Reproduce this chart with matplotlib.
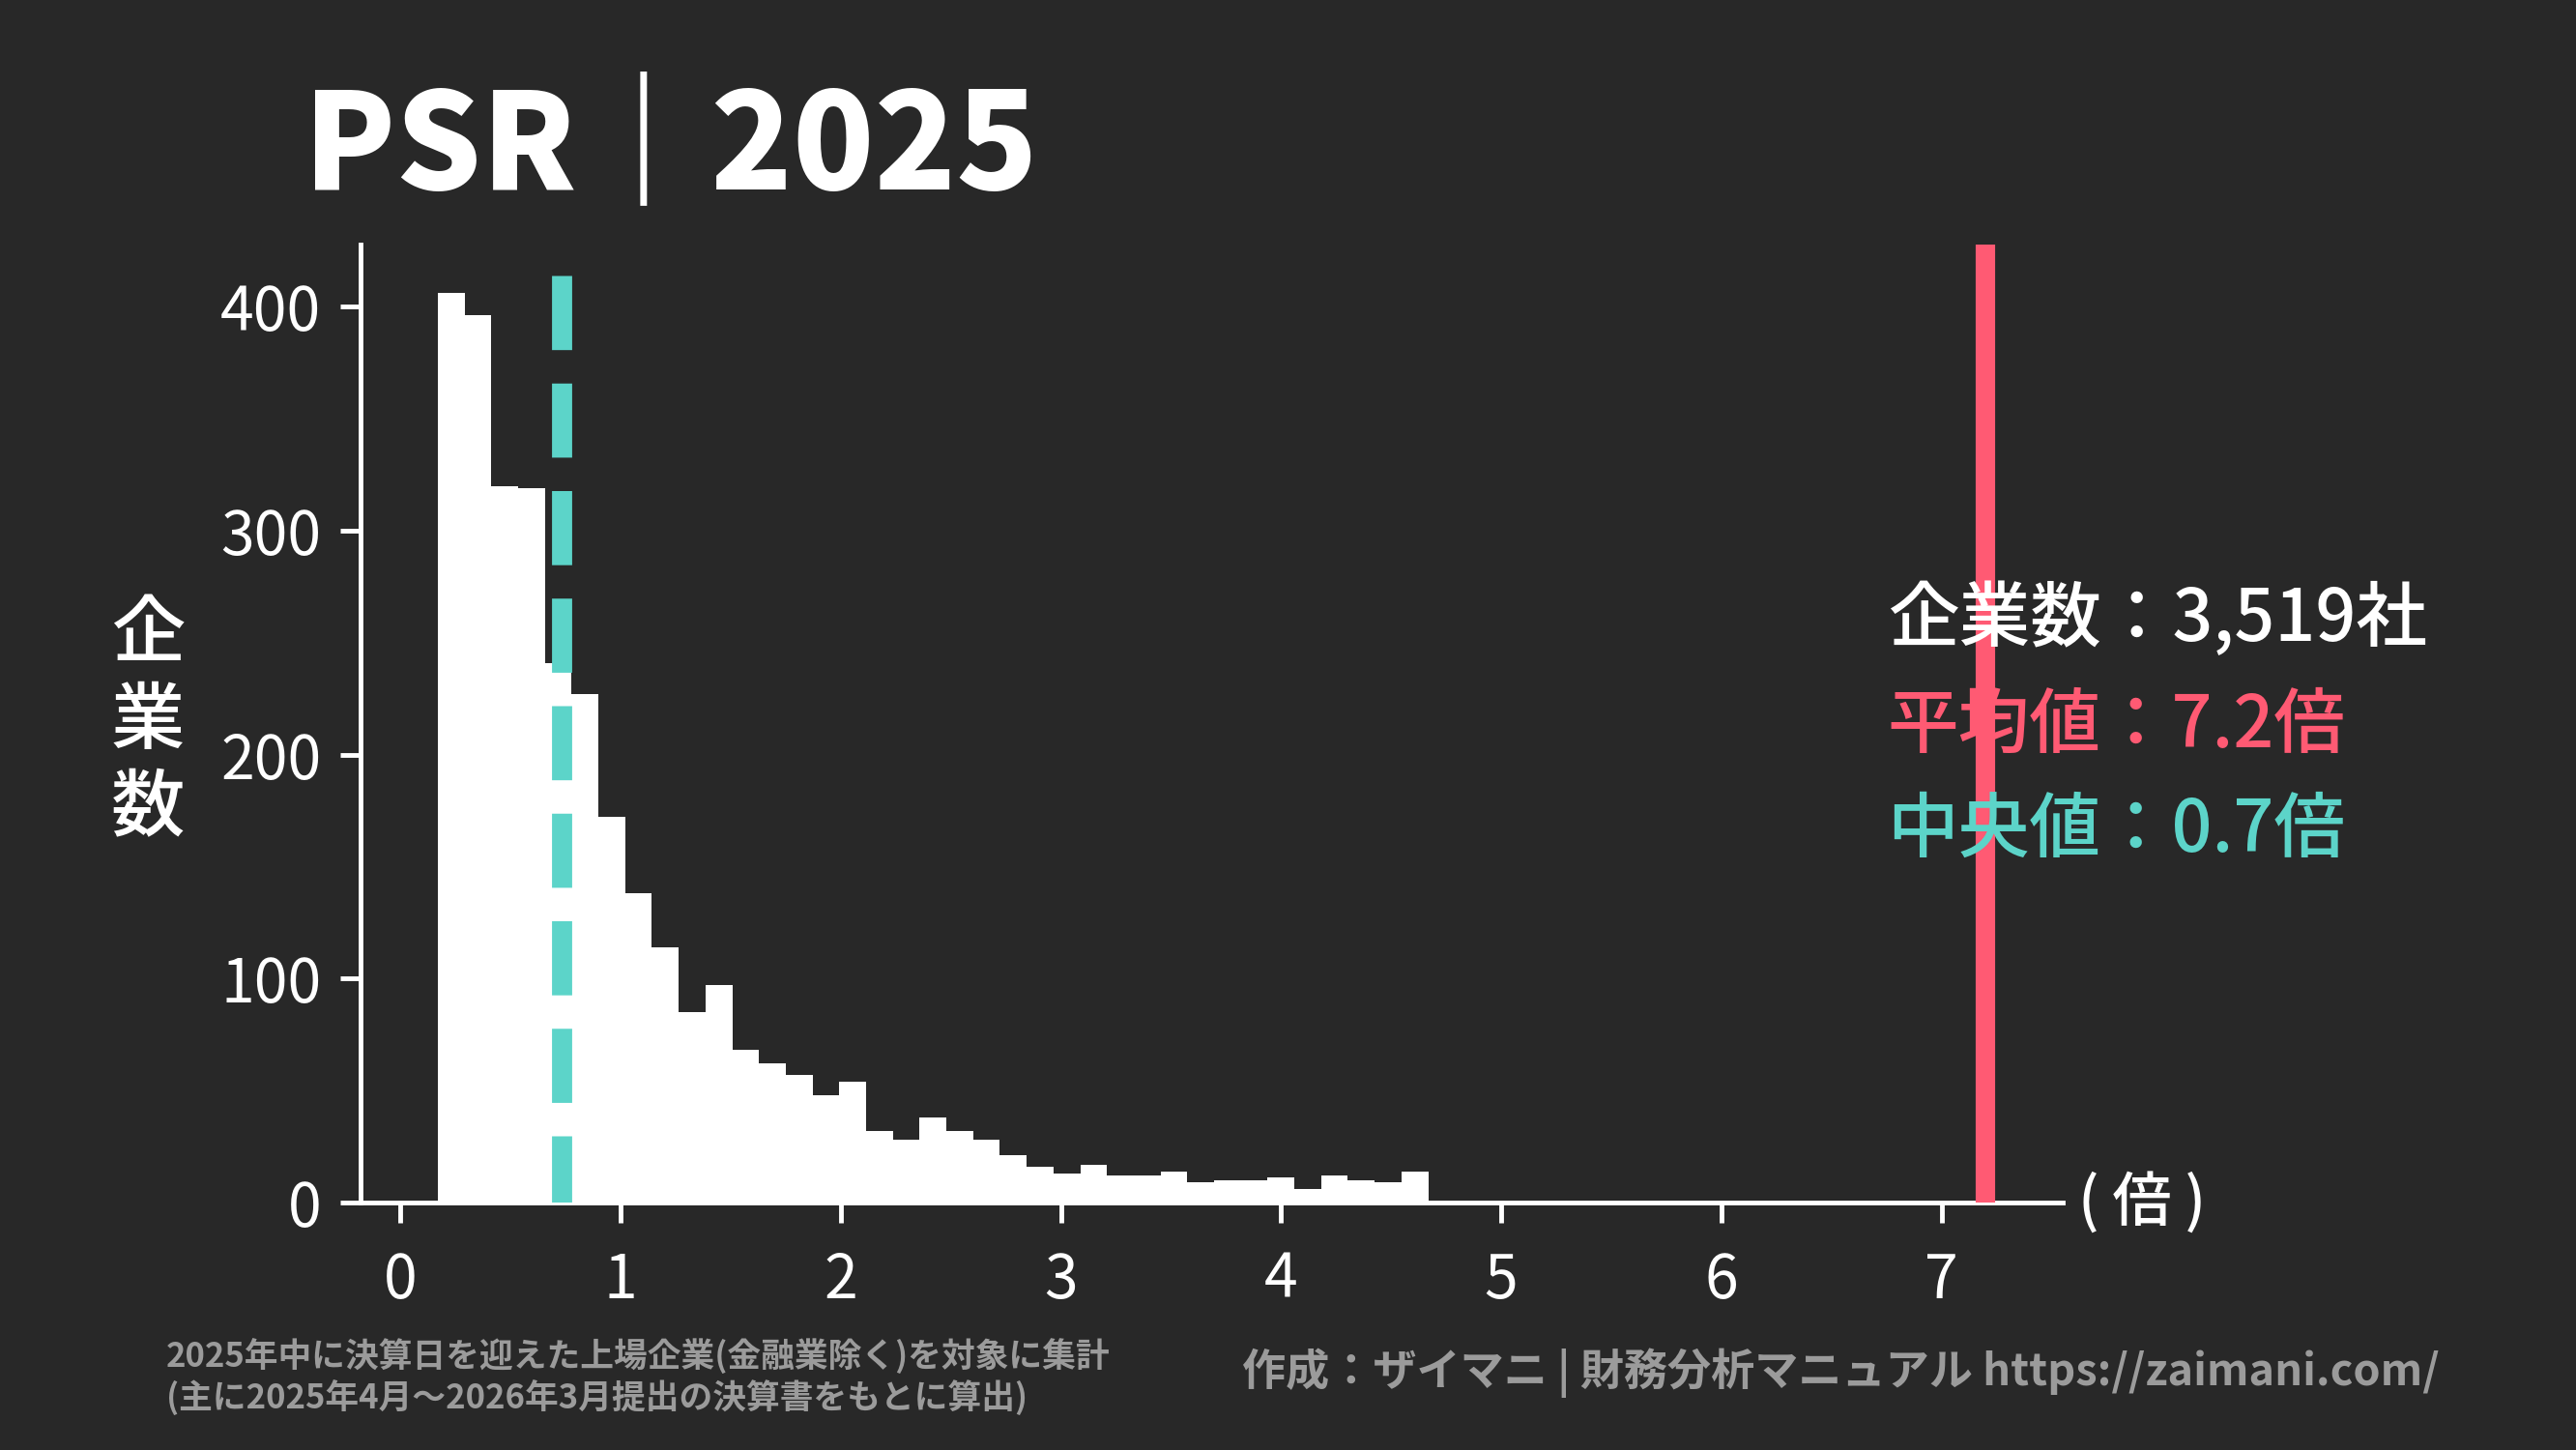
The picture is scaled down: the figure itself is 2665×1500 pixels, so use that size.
import matplotlib
matplotlib.use("Agg")
import matplotlib.pyplot as plt
import numpy as np

# ---------------- data ----------------
bin_start = 0.169
bin_width = 0.1216
counts = [406, 396, 320, 319, 241, 227, 172, 138, 114, 85, 97, 68, 62, 57, 48, 54,
          32, 28, 38, 32, 28, 21, 16, 13, 17, 12, 12, 14, 9, 10, 10, 11, 6, 12, 10, 9, 14]
n_companies = 3519
mean_value = 7.2
median_value = 0.73
median_line_top = 414
x_ticks = [0, 1, 2, 3, 4, 5, 6, 7]
y_ticks = [0, 100, 200, 300, 400]

title = "PSR｜2025"
y_label = "企\n業\n数"
x_unit = "( 倍 )"
note_left = "2025年中に決算日を迎えた上場企業(金融業除く)を対象に集計\n(主に2025年4月〜2026年3月提出の決算書をもとに算出)"
note_right = "作成：ザイマニ | 財務分析マニュアル https://zaimani.com/"

# ---------------- style ----------------
BG = "#282828"
WHITE = "#ffffff"
RED = "#ff5a73"
TEAL = "#5cd4c9"
GRAY = "#9b9b9b"
FONT = ["Noto Sans CJK JP", "DejaVu Sans"]
plt.rcParams["font.family"] = FONT

fig = plt.figure(figsize=(26.65, 15), dpi=100, facecolor=BG)
ax = fig.add_axes([0.1398, 0.1707, 0.8006 - 0.1398, 0.8313 - 0.1707])
ax.set_facecolor(BG)

lefts = bin_start + bin_width * np.arange(len(counts))
ax.bar(lefts, counts, width=bin_width, align="edge", color=WHITE, linewidth=0, zorder=3)

# median line drawn from the top so that the dash pattern starts at the top
ax.plot([median_value, median_value], [median_line_top, 0], color=TEAL, linewidth=15,
        linestyle=(0, (3.68, 1.66)), dash_capstyle="butt", zorder=4)
ax.axvline(mean_value, color=RED, linewidth=14.5, zorder=4)

ax.set_xlim(-0.184, 7.549)
ax.set_ylim(0, 427.7)
ax.set_xticks(x_ticks)
ax.set_yticks(y_ticks)

for side in ["top", "right"]:
    ax.spines[side].set_visible(False)
for side in ["left", "bottom"]:
    ax.spines[side].set_color(WHITE)
    ax.spines[side].set_linewidth(3.5)
    ax.spines[side].set_zorder(2)

ax.tick_params(axis="both", colors=WHITE, length=15, width=3.5, labelsize=45)
ax.tick_params(axis="x", pad=20)
ax.tick_params(axis="y", pad=14)

# title
fig.text(0.118, 0.870, title, color=WHITE, fontsize=100, fontweight="black",
         ha="left", va="baseline")

# y label
fig.text(0.0574, 0.502, y_label, color=WHITE, fontsize=55, fontweight="medium",
         ha="center", va="center", linespacing=1.2)

# x unit
fig.text(0.8068, 0.170, x_unit, color=WHITE, fontsize=44, fontweight="medium",
         ha="left", va="center")

# stats block
fig.text(0.7327, 0.5725, f"企業数：{n_companies:,}社", color=WHITE, fontsize=53,
         fontweight="medium", ha="left", va="center")
fig.text(0.7327, 0.4985, f"平均値：{mean_value:.1f}倍", color=RED, fontsize=53,
         fontweight="medium", ha="left", va="center")
fig.text(0.7327, 0.4265, f"中央値：{median_value:.1f}倍", color=TEAL, fontsize=53,
         fontweight="medium", ha="left", va="center")

# footers
fig.text(0.0645, 0.050, note_left, color=GRAY, fontsize=25, fontweight="bold",
         ha="left", va="center", linespacing=1.2)
fig.text(0.947, 0.0532, note_right, color=GRAY, fontsize=32.5, fontweight="bold",
         ha="right", va="center")

fig.savefig("out.png", dpi=100, facecolor=BG)
